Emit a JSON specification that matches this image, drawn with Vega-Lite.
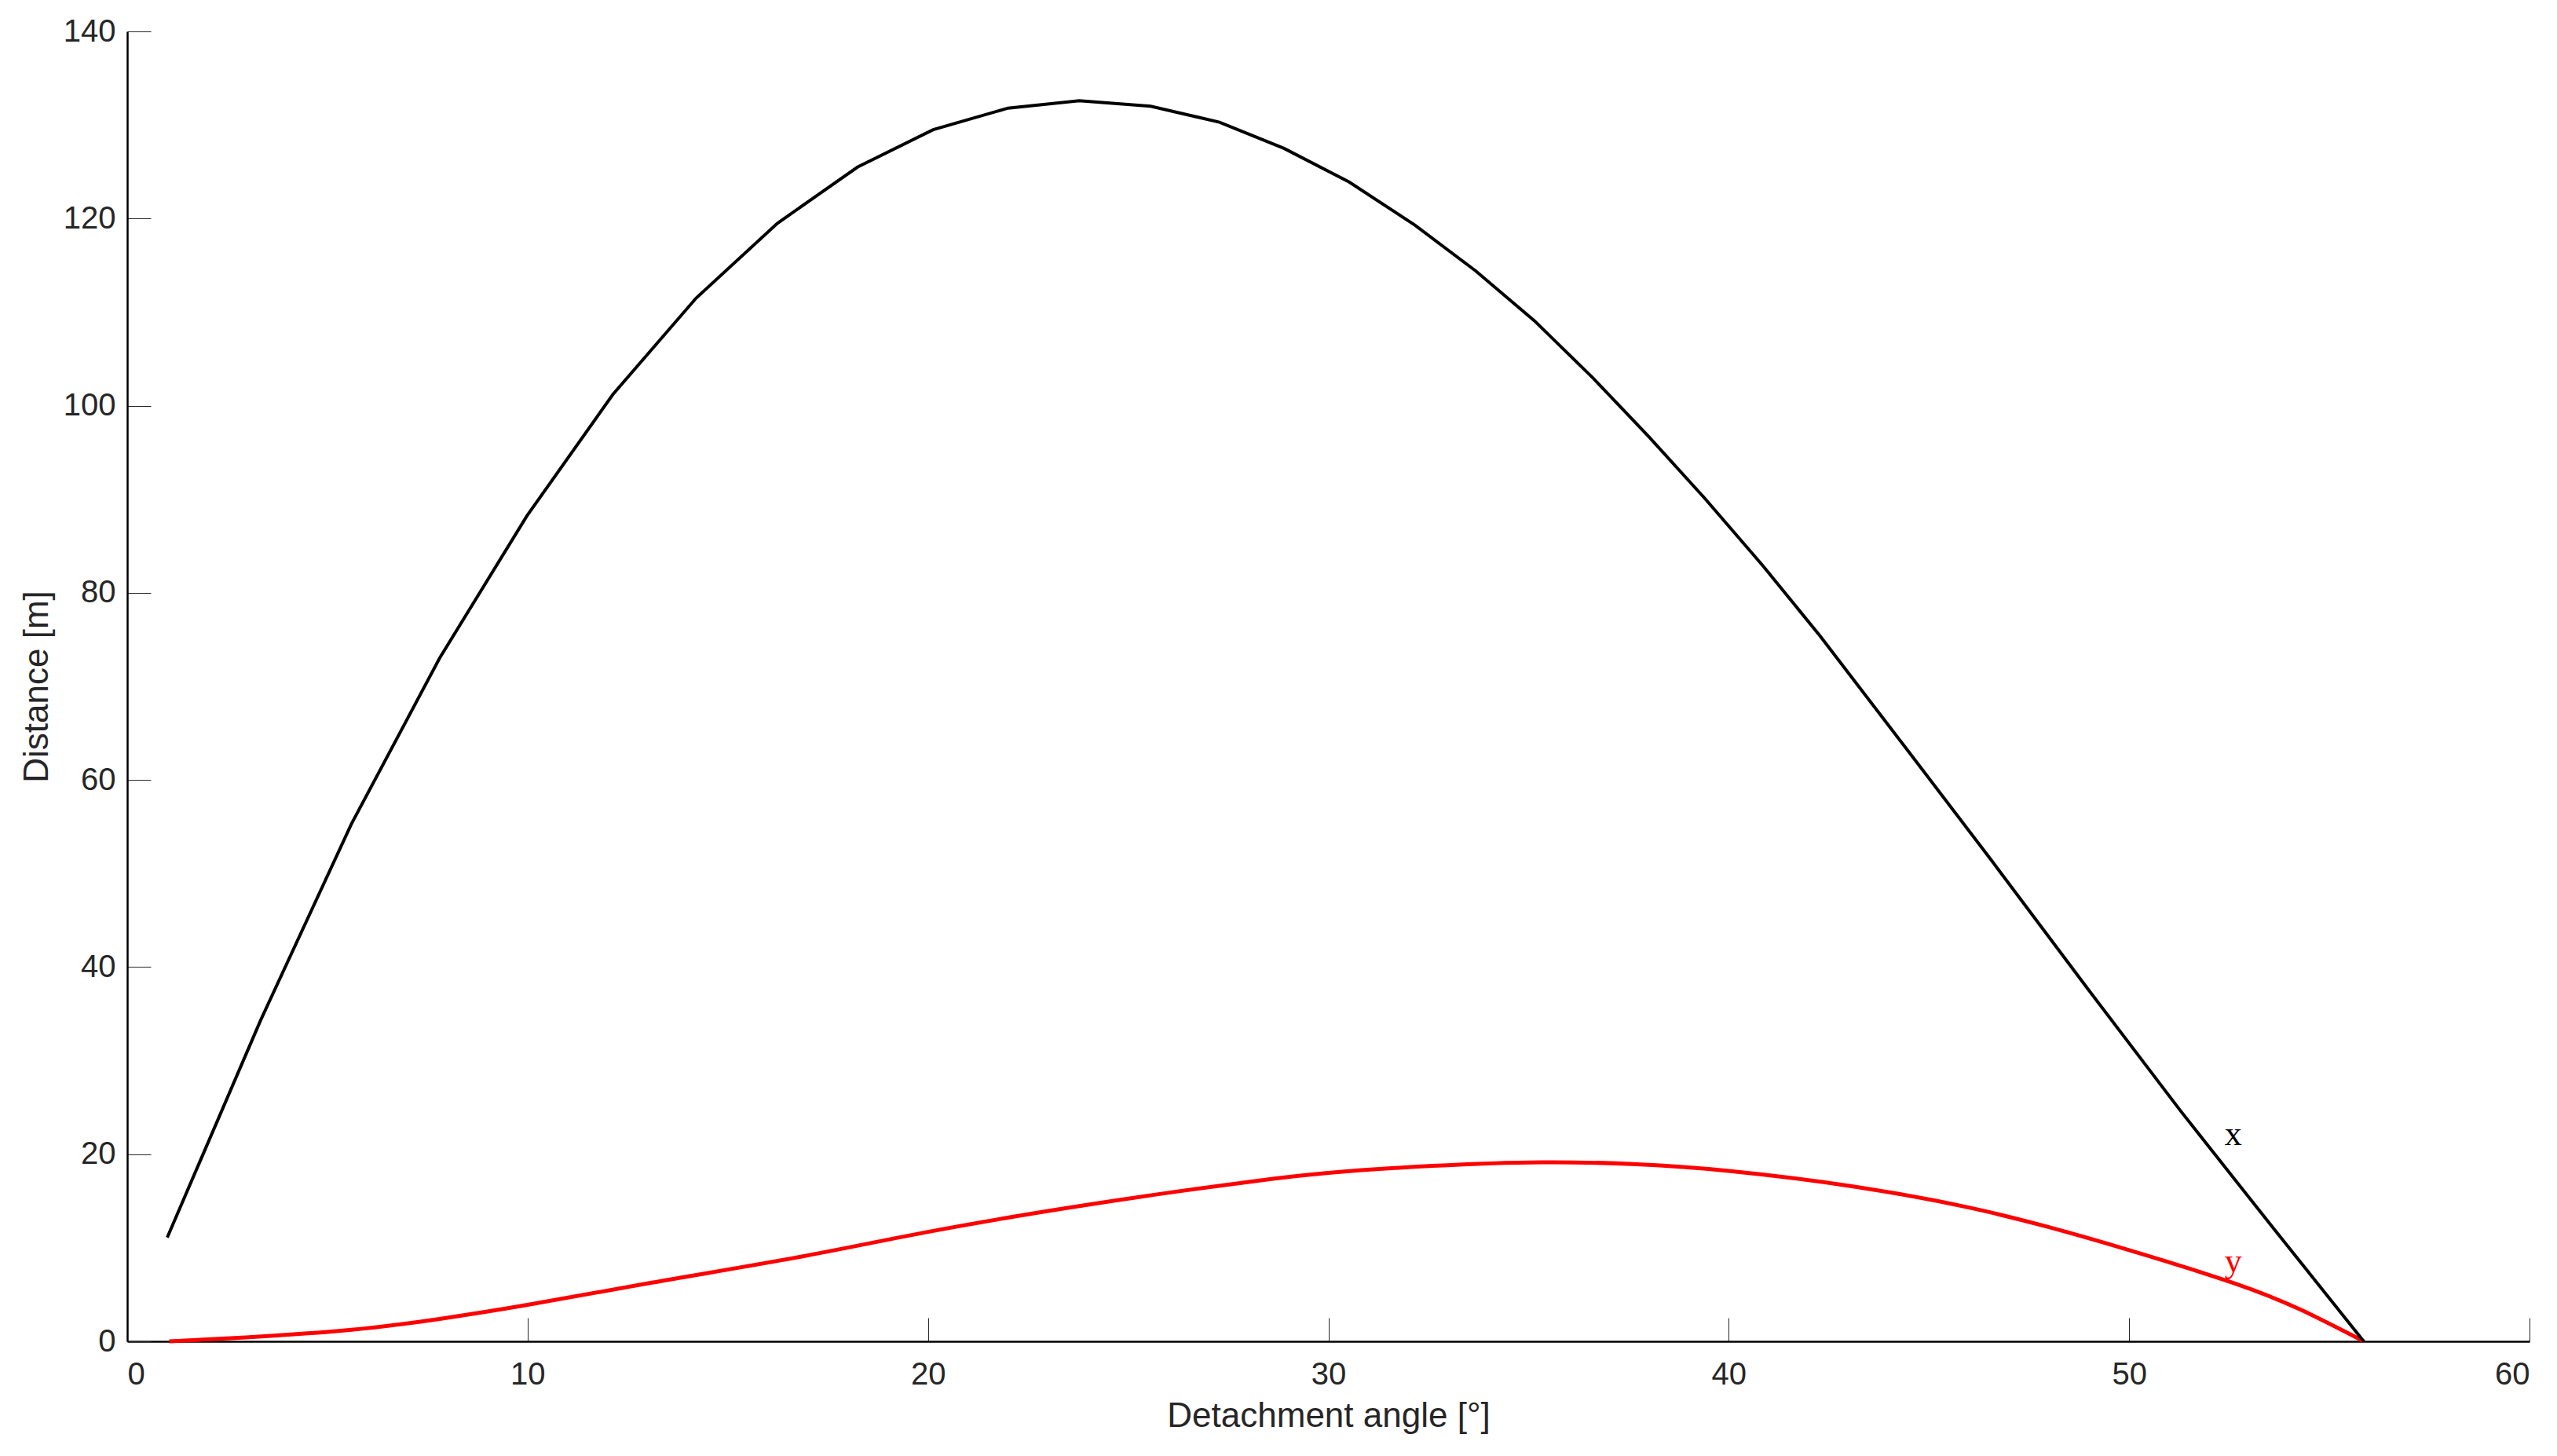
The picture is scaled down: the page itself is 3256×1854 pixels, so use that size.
{
  "$schema": "https://vega.github.io/schema/vega-lite/v6.json",
  "width": 3059,
  "height": 1668,
  "autosize": {"type": "none"},
  "padding": {"left": 162, "top": 40, "right": 35, "bottom": 146},
  "background": "white",
  "config": {
    "view": {"stroke": null},
    "axis": {
      "grid": false,
      "labelFont": "Liberation Sans",
      "titleFont": "Liberation Sans",
      "labelFontSize": 40,
      "titleFontSize": 44,
      "labelColor": "#262626",
      "titleColor": "#262626",
      "titleFontWeight": "normal",
      "domainColor": "#000000",
      "domainWidth": 2.5,
      "tickColor": "#262626",
      "tickWidth": 1,
      "tickSize": -30
    }
  },
  "datasets": {
    "curves": [
      {"angle": 1.0, "value": 11.1, "series": "x"},
      {"angle": 3.33, "value": 34.3, "series": "x"},
      {"angle": 5.6, "value": 55.3, "series": "x"},
      {"angle": 7.8, "value": 73.0, "series": "x"},
      {"angle": 9.98, "value": 88.2, "series": "x"},
      {"angle": 12.13, "value": 101.2, "series": "x"},
      {"angle": 14.21, "value": 111.5, "series": "x"},
      {"angle": 16.24, "value": 119.5, "series": "x"},
      {"angle": 18.24, "value": 125.5, "series": "x"},
      {"angle": 20.13, "value": 129.5, "series": "x"},
      {"angle": 22.0, "value": 131.8, "series": "x"},
      {"angle": 23.78, "value": 132.6, "series": "x"},
      {"angle": 25.56, "value": 132.0, "series": "x"},
      {"angle": 27.28, "value": 130.3, "series": "x"},
      {"angle": 28.89, "value": 127.5, "series": "x"},
      {"angle": 30.52, "value": 123.9, "series": "x"},
      {"angle": 32.16, "value": 119.3, "series": "x"},
      {"angle": 33.68, "value": 114.4, "series": "x"},
      {"angle": 35.14, "value": 109.1, "series": "x"},
      {"angle": 36.6, "value": 103.0, "series": "x"},
      {"angle": 38.0, "value": 96.7, "series": "x"},
      {"angle": 39.4, "value": 90.1, "series": "x"},
      {"angle": 40.85, "value": 82.9, "series": "x"},
      {"angle": 42.28, "value": 75.4, "series": "x"},
      {"angle": 44.48, "value": 63.1, "series": "x"},
      {"angle": 46.58, "value": 51.3, "series": "x"},
      {"angle": 48.98, "value": 37.6, "series": "x"},
      {"angle": 51.29, "value": 24.6, "series": "x"},
      {"angle": 53.6, "value": 12.1, "series": "x"},
      {"angle": 55.86, "value": 0.0, "series": "x"},
      {"angle": 1.05, "value": 0.0, "series": "y"},
      {"angle": 2.96, "value": 0.42, "series": "y"},
      {"angle": 5.6, "value": 1.23, "series": "y"},
      {"angle": 7.8, "value": 2.4, "series": "y"},
      {"angle": 10.0, "value": 3.9, "series": "y"},
      {"angle": 13.1, "value": 6.27, "series": "y"},
      {"angle": 16.85, "value": 9.07, "series": "y"},
      {"angle": 20.0, "value": 11.7, "series": "y"},
      {"angle": 23.4, "value": 14.2, "series": "y"},
      {"angle": 26.2, "value": 16.0, "series": "y"},
      {"angle": 28.2, "value": 17.15, "series": "y"},
      {"angle": 30.0, "value": 18.0, "series": "y"},
      {"angle": 32.6, "value": 18.75, "series": "y"},
      {"angle": 35.35, "value": 19.14, "series": "y"},
      {"angle": 37.7, "value": 18.93, "series": "y"},
      {"angle": 40.0, "value": 18.22, "series": "y"},
      {"angle": 43.2, "value": 16.5, "series": "y"},
      {"angle": 46.0, "value": 14.3, "series": "y"},
      {"angle": 48.0, "value": 12.2, "series": "y"},
      {"angle": 50.0, "value": 9.75, "series": "y"},
      {"angle": 52.6, "value": 6.25, "series": "y"},
      {"angle": 54.3, "value": 3.35, "series": "y"},
      {"angle": 55.86, "value": 0.0, "series": "y"}
    ],
    "labels": [
      {"angle": 52.6, "value": 21.0, "text": "x", "series": "x"},
      {"angle": 52.6, "value": 7.4, "text": "y", "series": "y"}
    ]
  },
  "encoding": {
    "x": {
      "field": "angle", "type": "quantitative",
      "scale": {"domain": [0, 60], "nice": false, "zero": false},
      "axis": {"title": "Detachment angle [°]", "values": [0, 10, 20, 30, 40, 50, 60], "labelPadding": 52, "titlePadding": 11}
    },
    "y": {
      "field": "value", "type": "quantitative",
      "scale": {"domain": [0, 140], "nice": false},
      "axis": {"title": "Distance [m]", "values": [0, 20, 40, 60, 80, 100, 120, 140], "labelPadding": 45, "titlePadding": 11}
    }
  },
  "layer": [
    {
      "data": {"name": "curves"},
      "transform": [{"filter": "datum.series === 'y'"}],
      "mark": {"type": "line", "color": "#ff0000", "strokeWidth": 5, "interpolate": "natural"}
    },
    {
      "data": {"name": "curves"},
      "transform": [{"filter": "datum.series === 'x'"}],
      "mark": {"type": "line", "color": "#000000", "strokeWidth": 4, "interpolate": "linear"}
    },
    {
      "data": {"name": "labels"},
      "mark": {"type": "text", "font": "Liberation Serif", "fontSize": 44, "align": "center", "baseline": "alphabetic"},
      "encoding": {
        "text": {"field": "text"},
        "color": {"field": "series", "type": "nominal", "scale": {"domain": ["x", "y"], "range": ["#000000", "#ff0000"]}, "legend": null}
      }
    }
  ]
}
